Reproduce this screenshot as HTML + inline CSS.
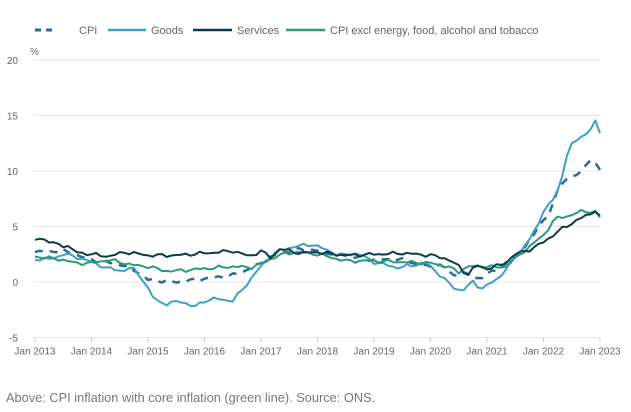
<!DOCTYPE html>
<html><head><meta charset="utf-8"><style>
html,body{margin:0;padding:0;background:#fff;width:631px;height:412px;overflow:hidden;font-family:"Liberation Sans",sans-serif}
</style></head><body>
<svg id="c" width="631" height="412" xmlns="http://www.w3.org/2000/svg" font-family="Liberation Sans, sans-serif">
<g font-size="11" fill="#666">
<line x1="35" y1="30" x2="55" y2="30" stroke="#2e6a96" stroke-width="3" stroke-dasharray="6,5"/>
<text x="79" y="34">CPI</text>
<line x1="108" y1="30" x2="146" y2="30" stroke="#3ba1c8" stroke-width="2.5"/>
<text x="151" y="34">Goods</text>
<line x1="193" y1="30" x2="232" y2="30" stroke="#0e3a4f" stroke-width="2.5"/>
<text x="237" y="34">Services</text>
<line x1="286" y1="30" x2="325" y2="30" stroke="#2a9a7c" stroke-width="2.5"/>
<text x="330" y="34">CPI excl energy, food, alcohol and tobacco</text>
<text x="30" y="55" font-size="10">%</text>
</g>
<g id="grid" stroke="#e6e6e6" stroke-width="1"></g>
<g id="ylab" font-size="10" fill="#666" text-anchor="end"></g>
<g id="xlab" font-size="10" fill="#666" text-anchor="middle"></g>
<g id="series" fill="none" stroke-linejoin="round"></g>
<text x="6" y="402" font-size="12.8" fill="#777">Above: CPI inflation with core inflation (green line). Source: ONS.</text>
</svg>
<script>
var X=function(t){return 35+56.5*(t-2013)},Y=function(v){return 282-11.1*v};
var ns="http://www.w3.org/2000/svg";
function el(p,n,a,txt){var e=document.createElementNS(ns,n);for(var k in a)e.setAttribute(k,a[k]);if(txt!=null)e.textContent=txt;document.getElementById(p).appendChild(e);}
[20,15,10,5,0,-5].forEach(function(v){el("grid","line",{x1:33,x2:600,y1:Y(v),y2:Y(v)});el("ylab","text",{x:18,y:Y(v)+4},String(v));});
for(var y=2013;y<=2023;y++){var x=X(y);el("grid","line",{x1:x,x2:x,y1:Y(-5),y2:Y(-5)+5,stroke:"#ccc"});el("xlab","text",{x:x,y:Y(-5)+17},"Jan "+y);}
var S={
goods:[[2013,2.0],[2013.3,2.1],[2013.5,2.5],[2013.7,2.3],[2014,1.8],[2014.3,1.2],[2014.6,1.0],[2014.7,1.4],[2014.9,0.3],[2015.1,-1.5],[2015.3,-2.0],[2015.6,-1.7],[2015.8,-2.3],[2016.0,-1.7],[2016.2,-1.5],[2016.5,-1.7],[2016.7,-0.5],[2016.9,0.8],[2017.1,2.0],[2017.3,2.8],[2017.6,3.2],[2017.9,3.4],[2018.1,3.0],[2018.4,2.4],[2018.7,2.6],[2019.0,1.8],[2019.4,1.3],[2019.7,1.5],[2019.9,1.8],[2020.2,0.5],[2020.4,-0.5],[2020.55,-0.8],[2020.75,0.0],[2020.9,-0.6],[2021.0,-0.3],[2021.2,0.3],[2021.35,1.3],[2021.5,2.2],[2021.7,3.5],[2021.9,5.0],[2022.0,6.5],[2022.2,7.5],[2022.35,9.8],[2022.45,12.4],[2022.6,12.6],[2022.7,13.5],[2022.8,13.2],[2022.9,14.8],[2023.0,13.4]],
serv:[[2013,3.8],[2013.1,4.0],[2013.3,3.5],[2013.6,3.2],[2013.7,2.7],[2014,2.5],[2014.3,2.3],[2014.6,2.7],[2015,2.4],[2015.5,2.4],[2016,2.6],[2016.5,2.8],[2016.8,2.3],[2017,2.8],[2017.2,2.1],[2017.3,3.0],[2017.7,2.6],[2018,2.7],[2018.5,2.4],[2019,2.5],[2019.5,2.6],[2020,2.4],[2020.3,2.1],[2020.5,1.4],[2020.65,0.6],[2020.8,1.5],[2021,1.2],[2021.3,1.6],[2021.5,2.5],[2021.8,3.0],[2022,3.6],[2022.3,4.7],[2022.6,5.6],[2022.9,6.3],[2022.95,6.8],[2023,6.0]],
cpi:[[2013,2.7],[2013.5,2.8],[2014,2.0],[2014.5,1.6],[2014.8,1.0],[2015,0.2],[2015.5,0.0],[2016,0.3],[2016.5,0.6],[2016.9,1.4],[2017.2,2.3],[2017.5,2.8],[2017.8,3.0],[2018.1,2.7],[2018.5,2.4],[2019,2.0],[2019.5,2.0],[2019.9,1.4],[2020.2,1.5],[2020.4,0.6],[2020.6,0.8],[2020.7,0.5],[2020.9,0.3],[2021,0.7],[2021.3,1.5],[2021.5,2.3],[2021.8,3.9],[2021.9,5.1],[2022.1,6.0],[2022.3,9.0],[2022.5,9.4],[2022.7,10.1],[2022.8,11.1],[2022.9,10.7],[2023,10.1]],
core:[[2013,2.3],[2013.5,2.0],[2013.7,1.7],[2014,1.7],[2014.3,2.0],[2014.5,1.8],[2014.75,1.5],[2015,1.4],[2015.3,1.0],[2015.5,1.0],[2016,1.2],[2016.5,1.4],[2016.8,1.3],[2017,1.6],[2017.3,2.4],[2017.6,2.7],[2018,2.5],[2018.5,1.9],[2019,1.9],[2019.5,1.8],[2020,1.7],[2020.3,1.4],[2020.5,0.9],[2020.65,1.4],[2021,1.4],[2021.3,1.3],[2021.5,2.1],[2021.8,3.4],[2022,4.2],[2022.2,5.7],[2022.4,5.9],[2022.7,6.4],[2022.95,6.3],[2023,5.8]]};
function monthly(a,seed){var out=[];for(var m=0;m<=120;m++){var t=2013+m/12,i=0;while(i<a.length-2&&a[i+1][0]<t)i++;var p=a[i],q=a[i+1],f=(t-p[0])/(q[0]-p[0]);f=Math.max(0,Math.min(1,f));var v=p[1]+(q[1]-p[1])*f;if(m>0&&m<120)v+=0.18*Math.sin(m*2.7+seed)*Math.cos(m*1.3+seed*2);out.push([t,v]);}return out;}
function pts(a){return a.map(function(p){return X(p[0]).toFixed(1)+","+Y(p[1]).toFixed(1)}).join(" ");}
el("series","polyline",{points:pts(monthly(S.cpi,1)),stroke:"#2e6a96","stroke-width":2.5,"stroke-dasharray":"8,7"});
el("series","polyline",{points:pts(monthly(S.goods,2)),stroke:"#3ba1c8","stroke-width":2});
el("series","polyline",{points:pts(monthly(S.core,3)),stroke:"#2a9a7c","stroke-width":2});
el("series","polyline",{points:pts(monthly(S.serv,4)),stroke:"#0e3a4f","stroke-width":2});
</script>
</body></html>
